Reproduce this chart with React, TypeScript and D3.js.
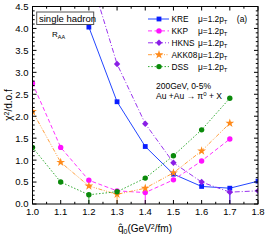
import React from "react";
import * as d3 from "d3";

const qhat = [1.0, 1.1, 1.2, 1.3, 1.4, 1.5, 1.6, 1.7, 1.8];
const kre = [null, null, 4.03, 2.33, 1.31, 0.68, 0.4, 0.36, 0.52];
const kkp = [2.75, 1.29, 0.54, 0.3, 0.26, 0.55, 0.98, 1.48, null];
const hkns = [null, null, 5.3, 3.19, 1.83, 0.94, 0.5, 0.27, 0.3];
const akk08 = [2.11, 0.95, 0.41, 0.22, 0.36, 0.71, 1.21, 1.84, null];
const dss = [1.29, 0.5, 0.21, 0.28, 0.59, 1.1, 1.69, 2.41, null];
const seriesNames = ["KRE", "KKP", "HKNS", "AKK08", "DSS"];
const xTicks = [1.0, 1.1, 1.2, 1.3, 1.4, 1.5, 1.6, 1.7, 1.8];
const yTicks = [0, 0.5, 1.0, 1.5, 2.0, 2.5, 3.0, 3.5, 4.0, 4.5];

const W = 266, H = 240;
const L = 32.5, R = 258, T = 6.5, B = 204;
const font = "'Liberation Sans', Arial, sans-serif";

const x = d3.scaleLinear().domain([1.0, 1.8]).range([L, R]);
const y = d3.scaleLinear().domain([0, 4.5]).range([B, T]);

const styles = [
  { color: "#2346ff", mcolor: "#0a1eff", dash: "", marker: "square" },
  { color: "#ff33ff", mcolor: "#ff11ff", dash: "4,2.5", marker: "circle" },
  { color: "#9933ee", mcolor: "#8a1ee6", dash: "5,2,1,2", marker: "diamond" },
  { color: "#ffa040", mcolor: "#ff8a1a", dash: "4,1.5,1,1.5,1,1.5", marker: "star" },
  { color: "#33aa33", mcolor: "#0a8a0a", dash: "1.5,1.8", marker: "circle" },
];
const data = [kre, kkp, hkns, akk08, dss];

function Marker({ type, cx, cy, color }: { type: string; cx: number; cy: number; color: string }) {
  if (type === "square") return <rect x={cx - 2.4} y={cy - 2.4} width={4.8} height={4.8} fill={color} />;
  if (type === "circle") return <circle cx={cx} cy={cy} r={2.7} fill={color} />;
  if (type === "diamond")
    return <path d={`M${cx},${cy - 3.2}L${cx + 3.2},${cy}L${cx},${cy + 3.2}L${cx - 3.2},${cy}Z`} fill={color} />;
  const sym = d3.symbol().type(d3.symbolStar).size(24)();
  return <path d={sym as string} transform={`translate(${cx},${cy})`} fill={color} />;
}

export default function App() {
  const line = d3
    .line<[number, number | null]>()
    .defined((d) => d[1] !== null)
    .x((d) => x(d[0]))
    .y((d) => y(d[1] as number));

  const xMinor = d3.range(1.0, 1.8001, 0.05);
  const yMinor = d3.range(0, 4.5001, 0.1);

  return (
    <svg width={W} height={H} style={{ position: "absolute", left: 0, top: 0, background: "#fff" }} fontFamily={font}>
      <defs>
        <clipPath id="plot">
          <rect x={L} y={T} width={R - L} height={B - T} />
        </clipPath>
      </defs>
      <rect x={0} y={0} width={W} height={H} fill="#fff" />
      <g clipPath="url(#plot)">
        {data.map((s, i) => {
          const pts = qhat.map((q, j) => [q, s[j]] as [number, number | null]);
          const vals = s.filter((v) => v !== null) as number[];
          const mn = Math.min(...vals);
          const mi = s.indexOf(mn);
          return (
            <g key={i}>
              <line x1={x(qhat[mi])} x2={x(qhat[mi])} y1={y(mn)} y2={y(0)} stroke={styles[i].color} strokeWidth={1} />
              <path d={line(pts) || ""} fill="none" stroke={styles[i].color} strokeWidth={1} strokeDasharray={styles[i].dash} />
              {pts.map((p, j) =>
                p[1] === null ? null : (
                  <Marker key={j} type={styles[i].marker} cx={x(p[0])} cy={y(p[1] as number)} color={styles[i].mcolor} />
                )
              )}
            </g>
          );
        })}
      </g>
      <rect x={L} y={T} width={R - L} height={B - T} fill="none" stroke="#000" strokeWidth={1} />
      {xMinor.map((v, i) => {
        const major = i % 2 === 0;
        const len = major ? 4 : 2.2;
        return (
          <g key={"xm" + i}>
            <line x1={x(v)} x2={x(v)} y1={B} y2={B - len} stroke="#000" strokeWidth={1} />
            <line x1={x(v)} x2={x(v)} y1={T} y2={T + len} stroke="#000" strokeWidth={1} />
          </g>
        );
      })}
      {yMinor.map((v, i) => {
        const major = i % 5 === 0;
        const len = major ? 4 : 2.2;
        return (
          <g key={"ym" + i}>
            <line x1={L} x2={L + len} y1={y(v)} y2={y(v)} stroke="#000" strokeWidth={1} />
            <line x1={R} x2={R - len} y1={y(v)} y2={y(v)} stroke="#000" strokeWidth={1} />
          </g>
        );
      })}
      {xTicks.map((v) => (
        <text key={"xt" + v} x={x(v)} y={214.5} fontSize={9.5} textAnchor="middle">
          {v.toFixed(1)}
        </text>
      ))}
      {yTicks.map((v) => (
        <text key={"yt" + v} x={28.5} y={y(v) + 3.4} fontSize={9.5} textAnchor="end">
          {v.toFixed(1)}
        </text>
      ))}
      <text x={145} y={232} fontSize={10} textAnchor="middle">
        q̂
        <tspan fontSize={7} dy={2}>0</tspan>
        <tspan dy={-2}>(GeV</tspan>
        <tspan fontSize={7} dy={-3.5}>2</tspan>
        <tspan dy={3.5}>/fm)</tspan>
      </text>
      <text transform="translate(12,105) rotate(-90)" fontSize={10} textAnchor="middle">
        χ<tspan fontSize={7} dy={-3.5}>2</tspan>
        <tspan dy={3.5}>/d.o.f</tspan>
      </text>
      <rect x={36.7} y={12} width={57} height={12.5} fill="#fff" stroke="#555" strokeWidth={1} />
      <text x={39} y={21.8} fontSize={9.5}>single hadron</text>
      <text x={52} y={37} fontSize={8}>
        R<tspan fontSize={5.5} dy={1.5}>AA</tspan>
      </text>
      {seriesNames.map((n, i) => {
        const ly = 19 + i * 11.9;
        return (
          <g key={"lg" + i}>
            <line x1={148} x2={169} y1={ly} y2={ly} stroke={styles[i].color} strokeWidth={1} strokeDasharray={styles[i].dash} />
            <Marker type={styles[i].marker} cx={159} cy={ly} color={styles[i].mcolor} />
            <text x={171.5} y={ly + 3.2} fontSize={8.3}>{n}</text>
            <text x={198} y={ly + 3.2} fontSize={8.3}>
              μ=1.2p<tspan fontSize={5.8} dy={2}>T</tspan>
            </text>
          </g>
        );
      })}
      <text x={242} y={22} fontSize={8.5} textAnchor="middle">(a)</text>
      <text x={156} y={88.5} fontSize={8.5}>200GeV, 0-5%</text>
      <text x={156} y={98.5} fontSize={8.5}>
        Au +Au → π<tspan fontSize={6} dy={-3}>0</tspan>
        <tspan dy={3}> + X</tspan>
      </text>
    </svg>
  );
}
